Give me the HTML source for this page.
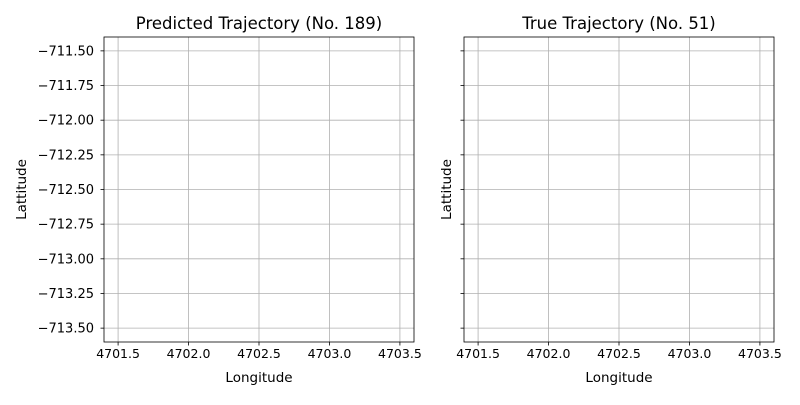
<!DOCTYPE html>
<html>
<head>
<meta charset="utf-8">
<style>
html,body{margin:0;padding:0;background:#fff;}
svg text{font-family:"DejaVu Sans","Liberation Sans",sans-serif;}
</style>
</head>
<body>
<svg id="chart" width="800" height="400" xmlns="http://www.w3.org/2000/svg"></svg>
<script>
const xTicks = [4701.5, 4702.0, 4702.5, 4703.0, 4703.5];
const yTicks = [-711.5, -711.75, -712.0, -712.25, -712.5, -712.75, -713.0, -713.25, -713.5];
const xDomain = [4701.4, 4703.6];
const yDomain = [-713.6, -711.4];
const predictedLon = [];
const predictedLat = [];
const trueLon = [];
const trueLat = [];

const NS = "http://www.w3.org/2000/svg";
const svg = document.getElementById('chart');
function mk(tag, attrs, parent){
  const e = document.createElementNS(NS, tag);
  for (const k in attrs) e.setAttribute(k, attrs[k]);
  (parent||svg).appendChild(e);
  return e;
}
const panels = [
  {x0:104, x1:414, title:"Predicted Trajectory (No. 189)", name:"predicted", showY:true, lon:predictedLon, lat:predictedLat},
  {x0:464, x1:774, title:"True Trajectory (No. 51)", name:"true", showY:false, lon:trueLon, lat:trueLat}
];
const y0 = 37, y1 = 342;
function fmtX(v){return v.toFixed(1);}
function fmtY(v){return "\u2212" + Math.abs(v).toFixed(2);}
panels.forEach(p => {
  const sx = v => p.x0 + (v - xDomain[0]) / (xDomain[1] - xDomain[0]) * (p.x1 - p.x0);
  const sy = v => y1 - (v - yDomain[0]) / (yDomain[1] - yDomain[0]) * (y1 - y0);
  const g = mk('g', {});
  
  
  xTicks.forEach(t => {
    const x = sx(t);
    const gl = mk('line', {x1:x, x2:x, y1:y0, y2:y1, stroke:'#b0b0b0', 'stroke-width':0.8}, g);
    
    
    mk('line', {x1:x, x2:x, y1:y1, y2:y1+3.5, stroke:'#000', 'stroke-width':0.8}, g);
    const tx = mk('text', {x:x, y:y1+16, 'font-size':12.5, 'text-anchor':'middle', fill:'#000'}, g);
    tx.textContent = fmtX(t);
    
    
  });
  yTicks.forEach(t => {
    const y = sy(t);
    const gl = mk('line', {x1:p.x0, x2:p.x1, y1:y, y2:y, stroke:'#b0b0b0', 'stroke-width':0.8}, g);
    
    
    mk('line', {x1:p.x0-3.5, x2:p.x0, y1:y, y2:y, stroke:'#000', 'stroke-width':0.8}, g);
    if (p.showY) {
      const ty = mk('text', {x:p.x0-10, y:y+4.5, 'font-size':13, 'text-anchor':'end', fill:'#000'}, g);
      ty.textContent = fmtY(t);
      
      
    }
  });
  if (p.lon.length) {
    const pts = p.lon.map((v,i) => sx(v) + ',' + sy(p.lat[i])).join(' ');
    const pl = mk('polyline', {points:pts, fill:'none', stroke:'#1f77b4', 'stroke-width':1.5}, g);
    
    
  }
  const fr = mk('rect', {x:p.x0, y:y0, width:p.x1-p.x0, height:y1-y0, fill:'none', stroke:'#000', 'stroke-width':0.8}, g);
  
  
  const tt = mk('text', {x:(p.x0+p.x1)/2, y:y0-8, 'font-size':16.5, 'text-anchor':'middle', fill:'#000'}, g);
  tt.textContent = p.title;
  
  
  const xl = mk('text', {x:(p.x0+p.x1)/2, y:382, 'font-size':13.5, 'text-anchor':'middle', fill:'#000'}, g);
  xl.textContent = 'Longitude';
  
  
  const ylx = p.showY ? 26 : 451;
  const yl = mk('text', {x:ylx, y:(y0+y1)/2, 'font-size':13.5, 'text-anchor':'middle', fill:'#000', transform:'rotate(-90 '+ylx+' '+((y0+y1)/2)+')'}, g);
  yl.textContent = 'Lattitude';
  
  
});
</script>
</body>
</html>
